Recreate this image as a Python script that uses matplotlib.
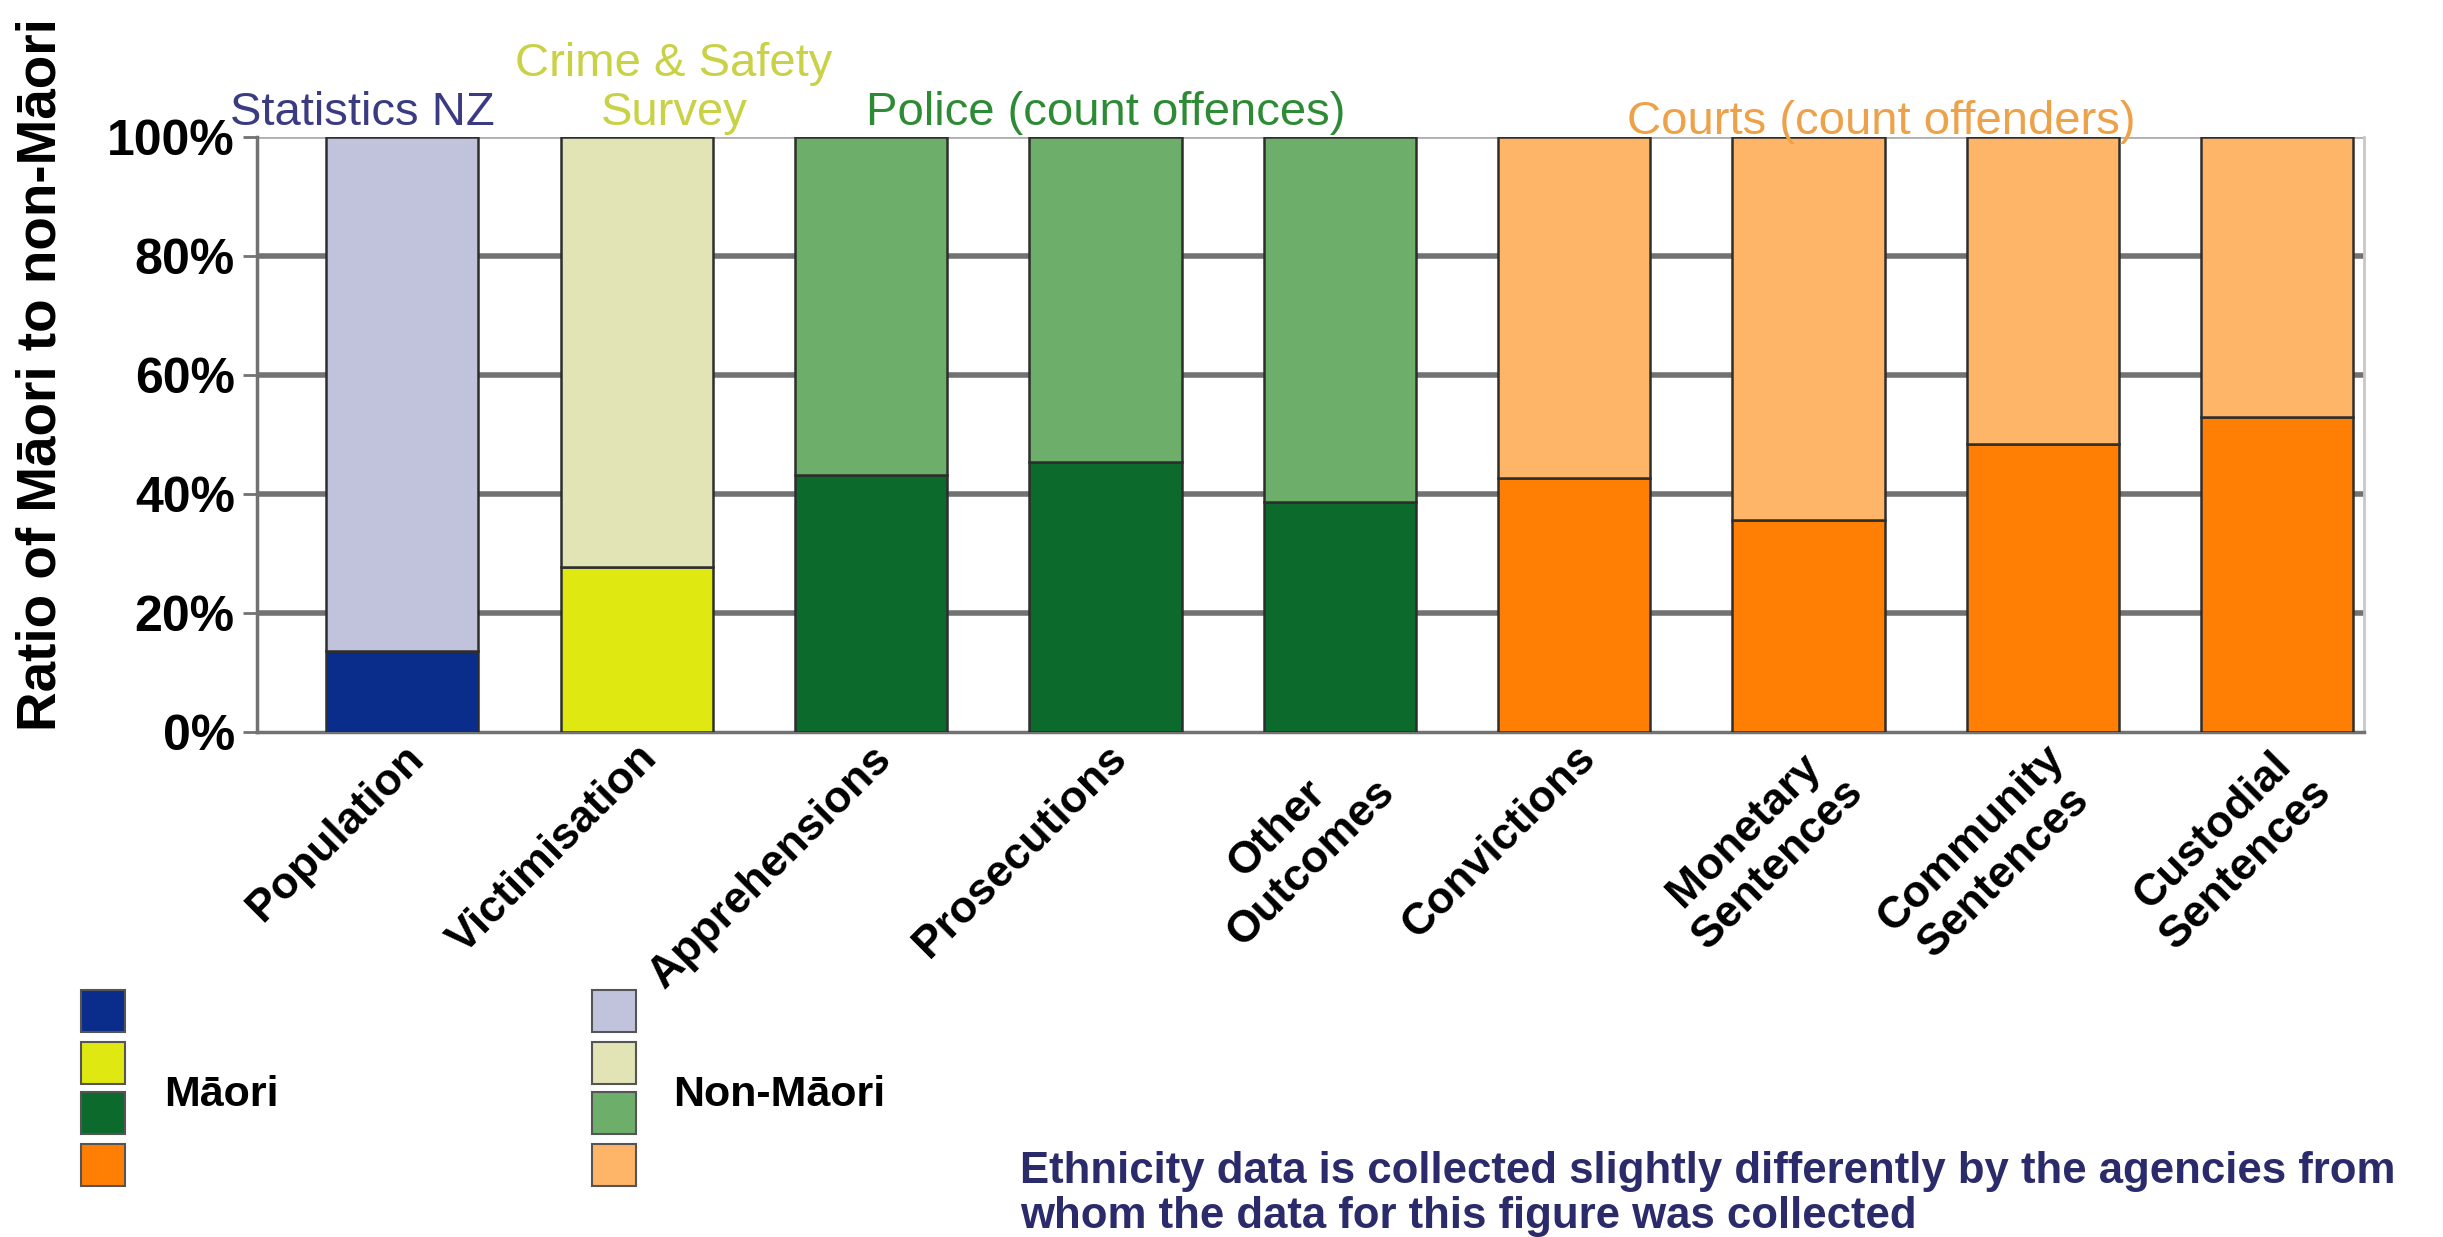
import matplotlib
matplotlib.use("Agg")
import matplotlib.pyplot as plt
from matplotlib.patches import Rectangle
import numpy as np

plt.rcParams['font.family'] = ['Liberation Sans', 'DejaVu Sans']

categories = ["Population", "Victimisation", "Apprehensions", "Prosecutions",
              "Other\nOutcomes", "Convictions", "Monetary\nSentences",
              "Community\nSentences", "Custodial\nSentences"]
maori_pct = [13.6, 27.7, 43.2, 45.3, 38.7, 42.7, 35.6, 48.4, 52.9]
maori_colors = ["#0a2d8c", "#dfe811", "#0b6a2c", "#ff7f05"]
non_maori_colors = ["#c1c2dc", "#e2e4b6", "#6cae6a", "#ffb567"]
bar_group = [0, 1, 2, 2, 2, 3, 3, 3, 3]
yticks = [0, 20, 40, 60, 80, 100]
ytick_labels = ["0%", "20%", "40%", "60%", "80%", "100%"]
group_labels = ["Statistics NZ", "Crime & Safety\nSurvey", "Police (count offences)", "Courts (count offenders)"]
group_label_colors = ["#3b3b82", "#c9d247", "#2e8b35", "#eda24a"]

W, H = 2443, 1237
fig = plt.figure(figsize=(W / 100, H / 100), dpi=100)
ax = fig.add_axes([257 / W, 1 - 732 / H, (2364 - 257) / W, (732 - 137) / H])

x = np.arange(len(categories))
non_maori = [100 - v for v in maori_pct]
mc = [maori_colors[g] for g in bar_group]
nc = [non_maori_colors[g] for g in bar_group]
ax.bar(x, maori_pct, width=0.65, color=mc, edgecolor="#2e2e2e", linewidth=1.8, zorder=3)
ax.bar(x, non_maori, bottom=maori_pct, width=0.65, color=nc, edgecolor="#2e2e2e", linewidth=1.8, zorder=3)

ax.set_xlim(-0.62, 8.37)
ax.set_ylim(0, 100)
ax.set_yticks(yticks)
ax.set_yticklabels(ytick_labels, fontsize=36, fontweight="bold")
for yv in yticks[1:-1]:
    ax.axhline(yv, color="#727272", linewidth=4, zorder=1)
ax.axhline(100, color="#b0b0b0", linewidth=2, zorder=1)
ax.tick_params(axis="y", length=10, width=2, color="#727272", pad=6)
ax.set_xticks(x)
ax.set_xticklabels(categories, rotation=45, ha="right", rotation_mode="anchor",
                   fontsize=32, fontweight="bold", multialignment="center")
ax.tick_params(axis="x", length=0, pad=4)
for s in ["left", "bottom"]:
    ax.spines[s].set_color("#727272")
    ax.spines[s].set_linewidth(2.5)
ax.spines["top"].set_visible(False)
ax.spines["right"].set_color("#c8c8c8")
ax.spines["right"].set_linewidth(2)

# group labels above the bars
gx = [-0.17, 1.16, 3.0, 6.31]
gy = [104, 108.2, 104, 102.6]
for lab, col, xx, yy in zip(group_labels, group_label_colors, gx, gy):
    ax.text(xx, yy, lab, color=col, fontsize=34, ha="center", va="center",
            clip_on=False, zorder=4, linespacing=1.15)

# y label
fig.text(42 / W, 1 - 731 / H, "Ratio of Māori to non-Māori", rotation=90,
         fontsize=39.5, fontweight="bold", ha="center", va="bottom")

# legend
sq_w, sq_h = 44, 42
rows = [1011, 1063, 1113, 1165]
for cx, cols in [(103, maori_colors), (614, non_maori_colors)]:
    for cy, c in zip(rows, cols):
        fig.patches.append(Rectangle(((cx - sq_w / 2) / W, 1 - (cy + sq_h / 2) / H),
                                     sq_w / W, sq_h / H, transform=fig.transFigure,
                                     facecolor=c, edgecolor="#555555", linewidth=1.5))
fig.text(164 / W, 1 - 1095 / H, "Māori", fontsize=31, fontweight="bold", va="center", ha="left")
fig.text(673 / W, 1 - 1095 / H, "Non-Māori", fontsize=31, fontweight="bold", va="center", ha="left")

fig.text(1020 / W, 1 - 1194 / H,
         "Ethnicity data is collected slightly differently by the agencies from\nwhom the data for this figure was collected",
         fontsize=31.5, fontweight="bold", color="#2b2b6b", va="center", ha="left", linespacing=1.1)

fig.savefig("out.png", dpi=100)
